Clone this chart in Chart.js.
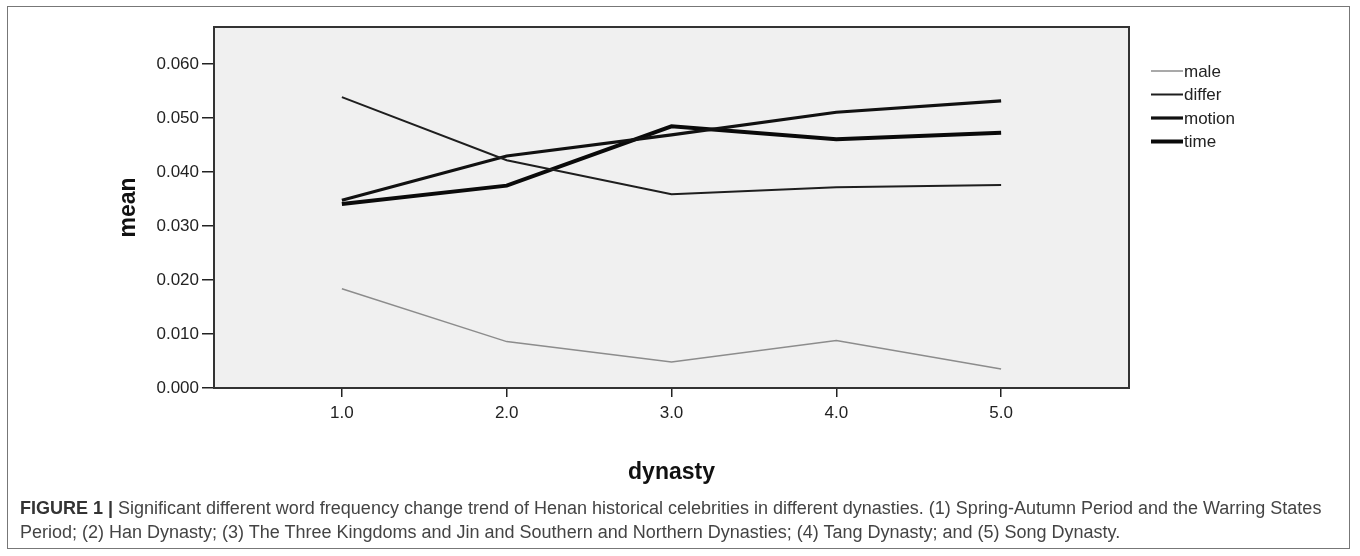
<!DOCTYPE html>
<html>
<head>
<meta charset="utf-8">
<script src="https://cdn.jsdelivr.net/npm/chart.js@4"></script>
<style>
  html, body { margin: 0; padding: 0; background: #fff; }
  #wrap { position: relative; width: 1360px; height: 556px; overflow: hidden; }
  #frame { position: absolute; left: 7px; top: 6px; width: 1343px; height: 543px; border: 1px solid #777; box-sizing: border-box; }
  #chartBox { position: absolute; left: 0; top: 0; width: 1360px; height: 556px; }
  #caption { position: absolute; left: 20px; top: 496px; width: 1330px; font-family: "Liberation Sans", Arial, sans-serif; font-size: 18px; line-height: 24px; color: #444; white-space: nowrap; }
  #caption b { color: #333; }
</style>
</head>
<body>
<div id="wrap">
  <div id="frame"></div>
  <div id="chartBox"><canvas id="myChart"></canvas></div>
  <div id="caption"><b>FIGURE 1 |</b> Significant different word frequency change trend of Henan historical celebrities in different dynasties. (1) Spring-Autumn Period and the Warring States<br>Period; (2) Han Dynasty; (3) The Three Kingdoms and Jin and Southern and Northern Dynasties; (4) Tang Dynasty; and (5) Song Dynasty.</div>
</div>
<script>
var dynasty = [1, 2, 3, 4, 5];
var male = [0.0184, 0.0086, 0.0048, 0.0088, 0.0035];
var differ = [0.0539, 0.0422, 0.0359, 0.0372, 0.0376];
var motion = [0.0348, 0.0430, 0.0469, 0.0511, 0.0532];
var time = [0.0341, 0.0375, 0.0485, 0.0461, 0.0473];
var yTicks = [0, 0.01, 0.02, 0.03, 0.04, 0.05, 0.06];
var xTicks = [1, 2, 3, 4, 5];

var seriesNames = ['male', 'differ', 'motion', 'time'];
var seriesValues = [male, differ, motion, time];
var lineColors = ['#8c8c8c', '#1e1e1e', '#111111', '#0a0a0a'];
var lineWidths = [1.5, 2, 3.2, 4];

function toPoints(vals) {
  return vals.map((v, i) => ({ x: dynasty[i], y: v }));
}

var datasets = seriesNames.map((name, i) => ({
  label: name,
  data: toPoints(seriesValues[i]),
  borderColor: lineColors[i],
  borderWidth: lineWidths[i],
  pointRadius: 0,
  tension: 0,
  fill: false
}));

// grey plot background + box around the chart area
var boxPlugin = {
  id: 'box',
  beforeDatasetsDraw(chart) {
    var a = chart.chartArea, c = chart.ctx;
    c.save();
    c.fillStyle = '#f0f0f0';
    c.fillRect(a.left, a.top, a.right - a.left, a.bottom - a.top);
    c.restore();
  },
  afterDatasetsDraw(chart) {
    var a = chart.chartArea, c = chart.ctx;
    c.save();
    c.strokeStyle = '#333';
    c.lineWidth = 2;
    c.strokeRect(a.left, a.top, a.right - a.left, a.bottom - a.top);
    c.restore();
  }
};

// SPSS style legend to the right of the plot
var legendPlugin = {
  id: 'sideLegend',
  afterDraw(chart) {
    var a = chart.chartArea, c = chart.ctx;
    c.save();
    c.font = '17px "Liberation Sans", Arial, sans-serif';
    c.textBaseline = 'middle';
    chart.data.datasets.forEach((ds, i) => {
      var y = a.top + 44 + i * 23.5;
      var x0 = a.right + 22;
      c.strokeStyle = ds.borderColor;
      c.lineWidth = ds.borderWidth;
      c.beginPath();
      c.moveTo(x0, y);
      c.lineTo(x0 + 32, y);
      c.stroke();
      c.fillStyle = '#222';
      c.fillText(ds.label, x0 + 33, y + 1);
    });
    c.restore();
  }
};

var ctx = document.getElementById('myChart').getContext('2d');
var myChart = new Chart(ctx, {
  type: 'line',
  data: { datasets: datasets },
  plugins: [boxPlugin, legendPlugin],
  options: {
    responsive: true,
    maintainAspectRatio: false,
    animation: false,
    layout: { padding: { left: 115, top: 27, right: 231, bottom: 70 } },
    plugins: {
      legend: { display: false },
      tooltip: { enabled: false }
    },
    scales: {
      x: {
        type: 'linear',
        min: 0.224,
        max: 5.776,
        afterBuildTicks: scale => { scale.ticks = xTicks.map(v => ({ value: v })); },
        afterFit: scale => { scale.height = 98; },
        grid: { drawOnChartArea: false, drawTicks: true, tickLength: 9, color: '#222', lineWidth: 1.5 },
        border: { display: false },
        ticks: {
          color: '#222',
          padding: 6,
          font: { family: '"Liberation Sans", Arial, sans-serif', size: 17 },
          callback: v => Number(v).toFixed(1)
        },
        title: {
          display: true,
          text: 'dynasty',
          color: '#111',
          padding: 0,
          font: { family: '"Liberation Sans", Arial, sans-serif', size: 23, weight: 'bold' }
        }
      },
      y: {
        min: 0,
        max: 0.0669,
        afterBuildTicks: scale => { scale.ticks = yTicks.map(v => ({ value: v })); },
        afterFit: scale => { scale.width = 99; },
        grid: { drawOnChartArea: false, drawTicks: true, tickLength: 12, color: '#222', lineWidth: 1.5 },
        border: { display: false },
        ticks: {
          color: '#222',
          padding: 3,
          font: { family: '"Liberation Sans", Arial, sans-serif', size: 17 },
          callback: v => Number(v).toFixed(3)
        },
        title: {
          display: true,
          text: 'mean',
          color: '#111',
          padding: 0,
          font: { family: '"Liberation Sans", Arial, sans-serif', size: 23, weight: 'bold' }
        }
      }
    }
  }
});
</script>
</body>
</html>
